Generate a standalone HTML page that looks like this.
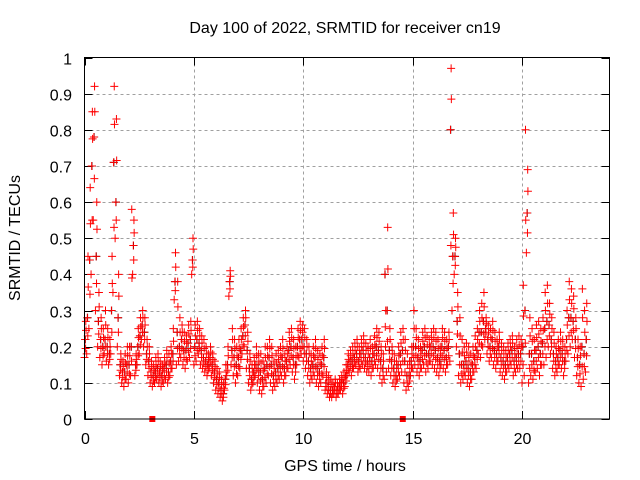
<!DOCTYPE html>
<html><head><meta charset="utf-8"><style>
html,body{margin:0;padding:0;background:#fff;}
svg{display:block;font-family:"Liberation Sans",sans-serif;}
</style></head><body>
<svg id="chart" width="640" height="480" viewBox="0 0 640 480">
<text x="345" y="33" font-size="16" text-anchor="middle" fill="#000">Day 100 of 2022, SRMTID for receiver cn19</text>
<text x="345" y="471" font-size="16" text-anchor="middle" fill="#000">GPS time / hours</text>
<text transform="translate(20,238) rotate(-90)" font-size="16" text-anchor="middle" fill="#000">SRMTID / TECUs</text>
<g id="grid"></g>
<g id="ticks"></g>
<g id="black-series"></g>
<g id="red-series"></g>
<rect x="84.5" y="57.5" width="525" height="361.5" fill="none" stroke="#000" stroke-width="1"/>
</svg>
<script>
const xTicks=[0,5,10,15,20];
const yTicks=[0,0.1,0.2,0.3,0.4,0.5,0.6,0.7,0.8,0.9,1];
const yTickLabels=["0","0.1","0.2","0.3","0.4","0.5","0.6","0.7","0.8","0.9","1"];
const xTickLabels=["0","5","10","15","20"];
const stepHours=0.1;
const lo=[17,18,25,40,55,30,20,17,15,18,16,15,18,35,50,20,12,10,9,11,10,12,40,12,15,18,22,20,15,12,10,9,10,11,10,9,10,11,10,12,14,33,15,16,17,15,14,16,17,40,15,16,18,15,14,13,12,14,12,10,8,7,6,5,8,12,34,15,12,10,12,14,18,20,14,10,8,10,12,10,8,7,9,10,12,10,8,9,10,11,12,10,12,14,15,13,11,15,17,18,16,14,12,10,11,12,10,9,10,12,8,7,6,6,7,6,7,8,7,9,12,13,12,14,15,13,14,15,14,13,13,12,14,15,14,12,10,11,13,14,12,10,9,11,12,13,10,8,9,12,14,15,13,12,14,15,13,14,16,15,14,13,12,15,14,13,15,16,30,40,20,12,10,11,12,10,9,11,13,14,18,17,20,22,18,16,17,15,14,16,13,12,11,13,14,15,12,13,14,14,10,12,46,10,12,11,13,14,12,15,15,17,20,18,14,12,13,15,14,12,16,18,20,22,17,12,10,9,11,13];
const hi=[27,45,64,85,92,60,35,28,25,30,25,22,45,92,83,40,18,16,18,20,20,58,55,18,25,28,30,28,22,20,16,15,17,18,16,15,17,19,18,20,25,46,38,28,26,24,23,26,27,50,26,27,25,23,22,20,18,20,18,16,14,13,11,10,15,20,41,25,22,20,22,25,28,30,24,18,15,17,20,18,18,16,20,20,22,20,16,18,19,20,22,18,20,24,25,22,20,25,27,26,25,22,20,18,20,22,19,18,20,22,13,12,11,10,11,10,11,12,13,15,18,19,20,21,22,20,22,23,21,20,22,20,23,25,24,20,18,20,53,25,20,18,16,20,24,25,22,18,16,20,30,25,22,20,24,25,23,22,24,25,24,22,20,25,24,22,24,97,57,50,35,28,22,20,21,20,18,20,23,25,30,32,35,28,26,25,27,24,22,24,21,20,19,21,22,23,20,22,23,22,37,80,69,28,25,22,26,27,25,28,35,37,32,28,24,20,22,24,22,20,30,38,36,34,28,22,20,36,30,32];
const mid=[22,28,44,70,78,45,27,22,20,22,20,18,30,71,60,28,15,13,13,15,15,20,48,15,20,23,26,24,18,16,13,12,13,14,13,12,14,15,13,16,18,38,24,20,22,19,19,21,22,44,20,22,21,19,17,16,15,17,15,13,11,10,8,7,11,15,38,19,17,15,17,19,23,26,19,14,11,13,15,14,13,11,14,15,17,15,12,13,14,15,17,14,16,19,20,17,15,20,22,22,20,18,16,14,15,17,14,13,15,17,10,9,8,8,9,8,9,10,10,12,15,16,16,17,18,16,18,19,17,16,17,16,18,20,19,16,14,40,30,19,16,14,12,15,18,19,16,12,12,16,20,20,17,16,19,20,18,18,20,20,19,17,16,20,19,17,20,80,45,45,27,18,15,15,16,14,13,15,17,19,24,24,27,25,22,20,22,19,18,20,17,16,15,17,18,19,16,17,18,18,20,30,57,18,18,16,19,20,18,21,25,27,26,22,18,16,17,19,18,16,22,28,28,27,22,17,15,20,18,22];
const zeroMarkTimes=[3.1,14.55];

const X0=84.5,X1=609.5,Y0=419,Y1=57.5;
function sx(h){return X0+(h/24)*(X1-X0);}
function sy(v){return Y0-v*(Y0-Y1);}
const NS="http://www.w3.org/2000/svg";
function mk(tag,attrs,parent){const e=document.createElementNS(NS,tag);for(const k in attrs)e.setAttribute(k,attrs[k]);parent.appendChild(e);return e;}
const grid=document.getElementById('grid'),ticks=document.getElementById('ticks');
const svg=document.getElementById('chart');
yTicks.forEach((v,i)=>{
  const y=Math.round(sy(v))+0.5;
  if(v>0&&v<1){const g=mk('line',{x1:X0,x2:X1,y1:y,y2:y,stroke:'#a0a0a0','stroke-dasharray':'3,3'},grid);
  
  }
  const t1=mk('line',{x1:X0,x2:X0+8,y1:y,y2:y,stroke:'#000'},ticks);
  
  
  const t2=mk('line',{x1:X1-8,x2:X1,y1:y,y2:y,stroke:'#000'},ticks);
  
  
  const tx=mk('text',{x:72,y:y+6,'font-size':16,'text-anchor':'end',fill:'#000'},svg);
  tx.textContent=yTickLabels[i];
  
  
});
xTicks.forEach((h,i)=>{
  const x=Math.round(sx(h))+0.5;
  if(h>0){const g=mk('line',{x1:x,x2:x,y1:Y1,y2:Y0,stroke:'#a0a0a0','stroke-dasharray':'3,3'},grid);
  
  }
  const t1=mk('line',{x1:x,x2:x,y1:Y0,y2:Y0-8,stroke:'#000'},ticks);
  
  
  const t2=mk('line',{x1:x,x2:x,y1:Y1,y2:Y1+8,stroke:'#000'},ticks);
  
  
  const tx=mk('text',{x:x,y:444,'font-size':16,'text-anchor':'middle',fill:'#000'},svg);
  tx.textContent=xTickLabels[i];
  
  
});
function cross(parent,h,v,color){
  const x=sx(h),y=sy(v);
  const p=mk('path',{d:`M${x-4},${y}H${x+4}M${x},${y-4}V${y+4}`,stroke:color,'stroke-width':1,fill:'none'},parent);
  
  
}
const blk=document.getElementById('black-series'),red=document.getElementById('red-series');
mid.forEach((v,i)=>cross(blk,i*stepHours+0.04,v/100,'#000'));
[lo,mid,hi].forEach((arr,k)=>arr.forEach((v,i)=>cross(red,i*stepHours+k*0.03,v/100,'#ff0000')));
lo.forEach((v,i)=>cross(red,i*stepHours+0.05,(v+mid[i])/200,'#ff0000'));
mid.forEach((v,i)=>cross(red,i*stepHours+0.07,(v+hi[i])/200,'#ff0000'));
zeroMarkTimes.forEach(h=>{
  const r=mk('rect',{x:sx(h)-3,y:Y0-3,width:6,height:6,fill:'#ff0000'},red);
  
  
});
</script>
</body></html>
